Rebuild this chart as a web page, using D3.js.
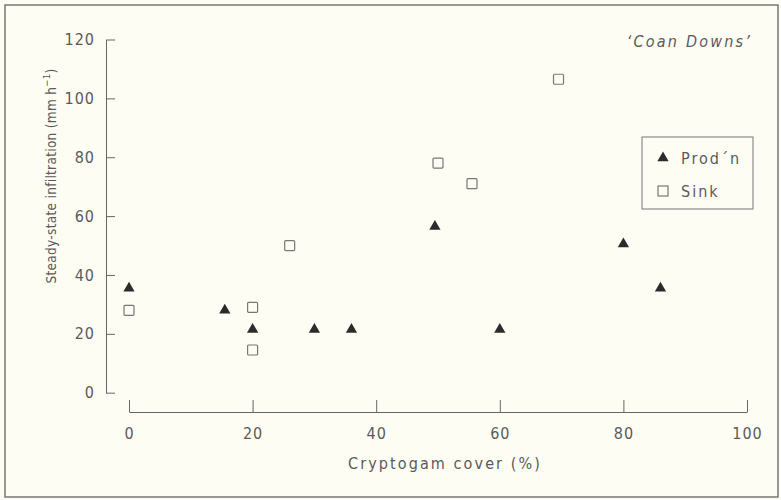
<!DOCTYPE html>
<html>
<head>
<meta charset="utf-8">
<script src="https://cdn.jsdelivr.net/npm/d3@7"></script>
<style>
    body { margin: 0; background: #fefdf4; }
    svg text { font-family: "DejaVu Sans Condensed", "DejaVu Sans", sans-serif; fill: #5a5a5a; }
    .axis path, .axis line { stroke: #666; stroke-width: 1; }
    .axis text { font-size: 16px; }
</style>
</head>
<body>
<div id="chart"></div>
<script>
// Prod'n series (triangles)
const prodX = [0, 15.5, 20, 30, 36, 49.5, 60, 80, 86];
const prodY = [35.5, 28, 21.5, 21.5, 21.5, 56.5, 21.5, 50.5, 35.5];
// Sink series (squares)
const sinkX = [0, 20, 20, 26, 50, 55.5, 69.5];
const sinkY = [28, 29, 14.5, 50, 78, 71, 106.5];

const xTicks = [0, 20, 40, 60, 80, 100];
const yTicks = [0, 20, 40, 60, 80, 100, 120];
const legendLabels = ['Prod\u00b4n', 'Sink'];

const W = 781, H = 500;

const svg = d3.select('#chart')
    .append('svg')
    .attr('width', W)
    .attr('height', H);

svg.append('rect')
    .attr('x', 0).attr('y', 0).attr('width', W).attr('height', H)
    .attr('fill', '#fefdf4');

// photo frame
svg.append('rect')
    .attr('x', 5).attr('y', 5).attr('width', 773).attr('height', 492)
    .attr('fill', 'none')
    .attr('stroke', '#777')
    .attr('stroke-width', 1.5);

const x = d3.scaleLinear().domain([0, 100]).range([129, 747]);
const y = d3.scaleLinear().domain([0, 120]).range([392.7, 39.5]);

svg.append('g')
    .attr('class', 'axis')
    .attr('transform', 'translate(106,0)')
    .call(d3.axisLeft(y).tickValues(yTicks).tickSizeInner(-9).tickSizeOuter(0).tickPadding(11))
    .call(g => g.selectAll('text').attr('letter-spacing', '1px'));

svg.append('g')
    .attr('class', 'axis')
    .attr('transform', 'translate(0,412)')
    .call(d3.axisBottom(x).tickValues(xTicks).tickSizeInner(-12).tickSizeOuter(0).tickPadding(16))
    .call(g => g.selectAll('text').attr('letter-spacing', '1px'));

// axis titles
svg.append('text')
    .attr('x', 445).attr('y', 469)
    .attr('text-anchor', 'middle')
    .attr('font-size', 16)
    .attr('letter-spacing', '2.1px')
    .text('Cryptogam cover (%)');

const yTitle = svg.append('text')
    .attr('transform', 'translate(56,176) rotate(-90)')
    .attr('text-anchor', 'middle')
    .attr('font-size', 13.5)
    .attr('letter-spacing', '0.3px');
yTitle.append('tspan').text('Steady-state infiltration (mm h');
yTitle.append('tspan').attr('dy', -6).attr('font-size', 9.5).text('\u22121');
yTitle.append('tspan').attr('dy', 6).text(')');

svg.append('text')
    .attr('x', 752).attr('y', 47)
    .attr('text-anchor', 'end')
    .attr('font-size', 16)
    .attr('font-style', 'italic')
    .attr('letter-spacing', '2.2px')
    .text('\u2018Coan Downs\u2019');

const triangle = d3.symbol().type(d3.symbolTriangle).size(55);

svg.append('g')
    .selectAll('path')
    .data(d3.zip(prodX, prodY))
    .join('path')
    .attr('d', triangle)
    .attr('transform', d => `translate(${x(d[0])},${y(d[1])})`)
    .attr('fill', '#2b2b2b');

svg.append('g')
    .selectAll('rect')
    .data(d3.zip(sinkX, sinkY))
    .join('rect')
    .attr('x', d => x(d[0]) - 5)
    .attr('y', d => y(d[1]) - 5)
    .attr('width', 10)
    .attr('height', 10)
    .attr('rx', 1)
    .attr('fill', 'none')
    .attr('stroke', '#777')
    .attr('stroke-width', 1.2);

// legend
const legend = svg.append('g').attr('transform', 'translate(642,137)');
legend.append('rect')
    .attr('width', 111).attr('height', 72)
    .attr('fill', 'none')
    .attr('stroke', '#777');

legend.append('path')
    .attr('d', triangle)
    .attr('transform', 'translate(21,21)')
    .attr('fill', '#2b2b2b');
legend.append('rect')
    .attr('x', 16).attr('y', 49).attr('width', 10).attr('height', 10)
    .attr('fill', 'none').attr('stroke', '#777').attr('stroke-width', 1.2);

legend.selectAll('text.lbl')
    .data(legendLabels)
    .join('text')
    .attr('class', 'lbl')
    .attr('x', 39)
    .attr('y', (d, i) => 27 + i * 33)
    .attr('font-size', 16)
    .attr('letter-spacing', '2px')
    .text(d => d);
</script>
</body>
</html>
